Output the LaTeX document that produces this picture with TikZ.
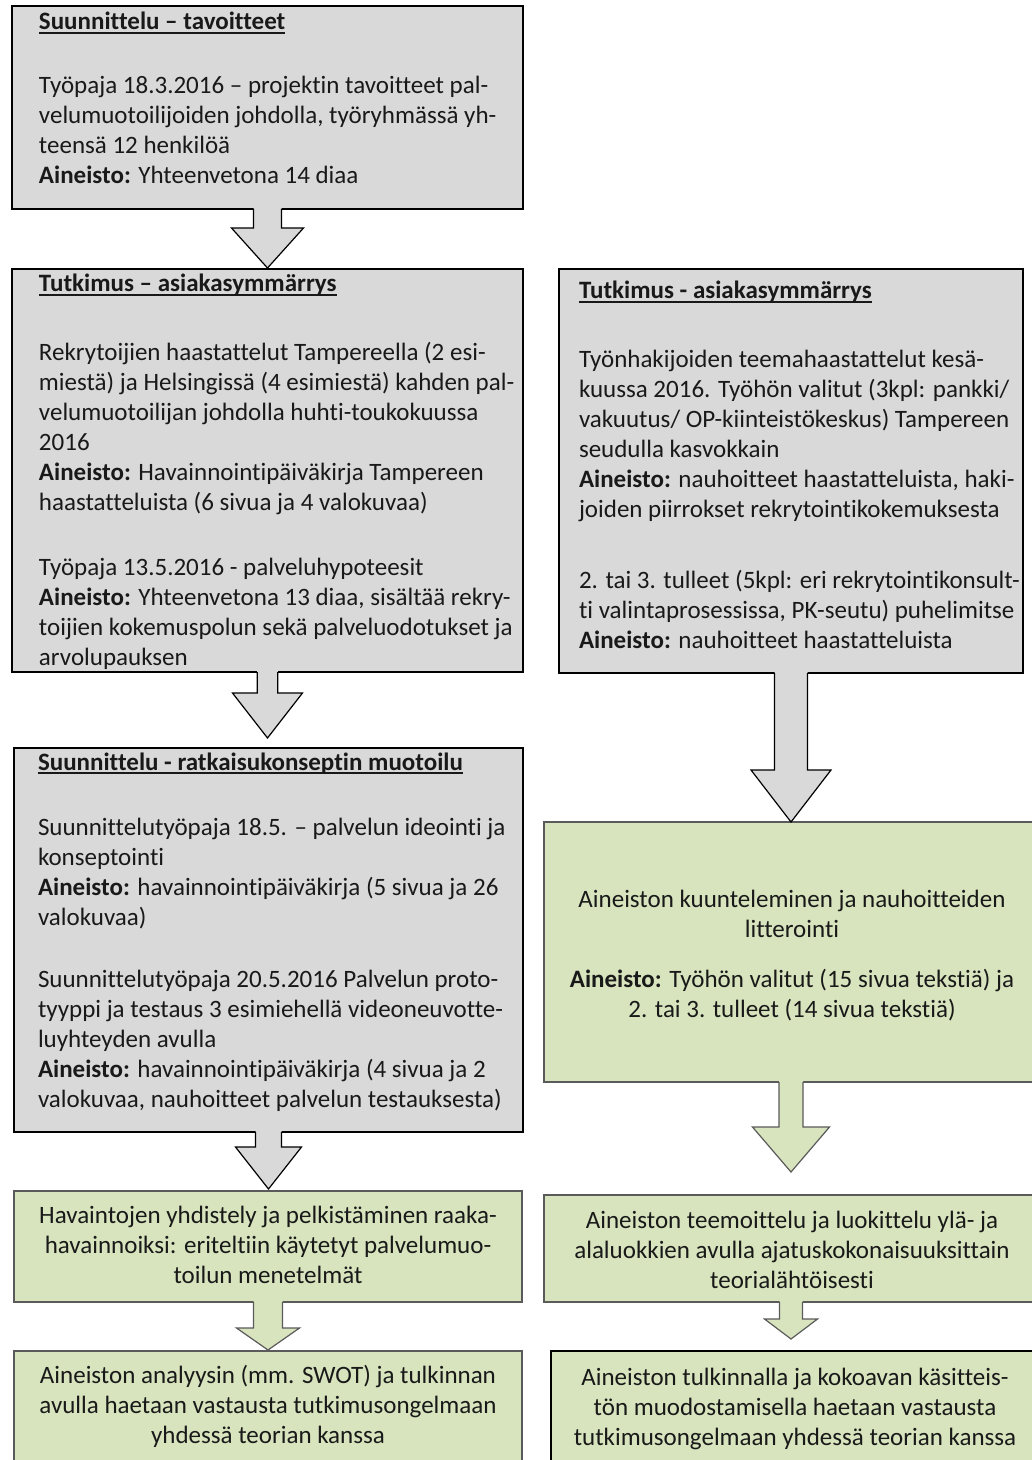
\documentclass[tikz,border=0pt]{standalone}
\usepackage{fontspec}
\setmainfont{Carlito}[Ligatures={NoCommon,NoContextual}]
\usetikzlibrary{calc}

\definecolor{boxgray}{HTML}{D9D9D9}
\definecolor{boxgreen}{HTML}{D7E4BD}
\definecolor{edgegray}{HTML}{5A5A5A}

\newcommand\textsize{\fontsize{12.5pt}{15pt}\selectfont}
% bold title with an underline at a fixed depth
\newcommand\boxtitle[1]{\setbox0\hbox{\textbf{#1}}\rlap{\vrule height -1.2pt depth 1.9pt width \wd0}\box0}
% left aligned and centred text blocks, aligned on their first baseline
\newcommand\leftblock[1]{\parbox[t]{300pt}{\raggedright\textsize #1}}
\newcommand\midblock[1]{\parbox[t]{300pt}{\centering\textsize #1}}

% block arrow from the bottom of a box down to a tip coordinate
% #1 style, #2 source node, #3 tip, #4 shaft half width, #5 head half width, #6 head length
\newcommand\blockarrow[6]{%
  \path[#1,draw=none] ($(#2.south)+(-#4,-2)$) -- ($(#3)+(-#4,-#6)$) -- ($(#3)+(-#5,-#6)$) -- (#3)
    -- ($(#3)+(#5,-#6)$) -- ($(#3)+(#4,-#6)$) -- ($(#2.south)+(#4,-2)$) -- cycle;
  \path[#1,fill=none] ($(#2.south)+(-#4,0)$) -- ($(#3)+(-#4,-#6)$) -- ($(#3)+(-#5,-#6)$) -- (#3)
    -- ($(#3)+(#5,-#6)$) -- ($(#3)+(#4,-#6)$) -- ($(#2.south)+(#4,0)$);
}

\begin{document}
\begin{tikzpicture}[x=0.5pt,y=-0.5pt,
  box/.style={rectangle,inner sep=0pt,outer sep=0pt,anchor=north west},
  graybox/.style={box,fill=boxgray,draw=black,line width=1pt},
  greenbox/.style={box,fill=boxgreen,draw=edgegray,line width=0.8pt},
  darkgreenbox/.style={box,fill=boxgreen,draw=black,line width=1.1pt},
  garrow/.style={fill=boxgray,draw=black,line width=0.6pt,line join=miter},
  varrow/.style={fill=boxgreen,draw=edgegray,line width=0.6pt,line join=miter},
  txt/.style={inner sep=0pt,outer sep=0pt,text=black!90},
  lt/.style={txt,anchor=base west},
  ct/.style={txt,anchor=base}]

\useasboundingbox (0,0) rectangle (1032,1460);
\clip (0,0) rectangle (1032,1460);

% ---------- boxes ----------
\node[graybox,minimum width=255.5pt,minimum height=101.5pt] (b1) at (12,6) {};
\node[graybox,minimum width=255.5pt,minimum height=201.5pt] (b2) at (12,269) {};
\node[graybox,minimum width=254.5pt,minimum height=192pt] (b3) at (14,748) {};
\node[greenbox,minimum width=254pt,minimum height=55.5pt] (b4) at (14,1191) {};
\node[greenbox,minimum width=254pt,minimum height=70pt] (b5) at (14,1351) {};

\node[graybox,minimum width=232pt,minimum height=202pt] (r1) at (559,269) {};
\node[greenbox,minimum width=247pt,minimum height=130pt] (r2) at (544,822) {};
\node[greenbox,minimum width=247pt,minimum height=53.5pt] (r3) at (544,1195) {};
\node[darkgreenbox,minimum width=247pt,minimum height=70pt] (r4) at (551,1351) {};

% ---------- block arrows ----------
\coordinate (a1tip) at ($(b1.south)+(0,59)$);
\coordinate (a2tip) at ($(b2.south)+(0,66)$);
\coordinate (a3tip) at ($(b3.south)+(0,57)$);
\coordinate (a4tip) at ($(b4.south)+(0,48)$);
\coordinate (c1tip) at ($(r1.south)+(0,149)$);
\coordinate (c2tip) at ($(r2.south)+(0,90)$);
\coordinate (c3tip) at ($(r3.south)+(0,37)$);

\blockarrow{garrow}{b1}{a1tip}{14}{36}{40}
\blockarrow{garrow}{b2}{a2tip}{10.3}{35}{45}
\blockarrow{garrow}{b3}{a3tip}{13}{33}{42}
\blockarrow{varrow}{b4}{a4tip}{14.5}{31.5}{22}
\blockarrow{garrow}{r1}{c1tip}{16.5}{40}{52}
\blockarrow{varrow}{r2}{c2tip}{12}{38.5}{45}
\blockarrow{varrow}{r3}{c3tip}{11.5}{26.5}{20}

% ---------- left column texts ----------
\node[lt] (b1h) at (39,30) {\textsize\boxtitle{Suunnittelu – tavoitteet}};
\node[lt] (b1p) at (39,94) {\leftblock{Työpaja 18.3.2016 – projektin tavoitteet pal-\\
velumuotoilijoiden johdolla, työryhmässä yh-\\
teensä 12 henkilöä\\
\textbf{Aineisto:} Yhteenvetona 14 diaa}};

\node[lt] (b2h) at (39,292) {\textsize\boxtitle{Tutkimus – asiakasymmärrys}};
\node[lt] (b2p) at (39,360) {\leftblock{Rekrytoijien haastattelut Tampereella (2 esi-\\
miestä) ja Helsingissä (4 esimiestä) kahden pal-\\
velumuotoilijan johdolla huhti-toukokuussa\\
2016\\
\textbf{Aineisto:} Havainnointipäiväkirja Tampereen\\
haastatteluista (6 sivua ja 4 valokuvaa)}};
\node[lt] (b2q) at (39,575) {\leftblock{Työpaja 13.5.2016 - palveluhypoteesit\\
\textbf{Aineisto:} Yhteenvetona 13 diaa, sisältää rekry-\\
toijien kokemuspolun sekä palveluodotukset ja\\
arvolupauksen}};

\node[lt] (b3h) at (38,770) {\textsize\boxtitle{Suunnittelu - ratkaisukonseptin muotoilu}};
\node[lt] (b3p) at (38,835) {\leftblock{Suunnittelutyöpaja 18.5. – palvelun ideointi ja\\
konseptointi\\
\textbf{Aineisto:} havainnointipäiväkirja (5 sivua ja 26\\
valokuvaa)}};
\node[lt] (b3q) at (38,987) {\leftblock{Suunnittelutyöpaja 20.5.2016 Palvelun proto-\\
tyyppi ja testaus 3 esimiehellä videoneuvotte-\\
luyhteyden avulla\\
\textbf{Aineisto:} havainnointipäiväkirja (4 sivua ja 2\\
valokuvaa, nauhoitteet palvelun testauksesta)}};

\node[ct] (b4t) at (268,1223) {\midblock{Havaintojen yhdistely ja pelkistäminen raaka-\\
havainnoiksi: eriteltiin käytetyt palvelumuo-\\
toilun menetelmät}};

\node[ct] (b5t) at (268,1383) {\midblock{Aineiston analyysin (mm. SWOT) ja tulkinnan\\
avulla haetaan vastausta tutkimusongelmaan\\
yhdessä teorian kanssa}};

% ---------- right column texts ----------
\node[lt] (r1h) at (579,299) {\textsize\boxtitle{Tutkimus - asiakasymmärrys}};
\node[lt] (r1p) at (579,367) {\leftblock{Työnhakijoiden teemahaastattelut kesä-\\
kuussa 2016. Työhön valitut (3kpl: pankki/\\
vakuutus/ OP-kiinteistökeskus) Tampereen\\
seudulla kasvokkain\\
\textbf{Aineisto:} nauhoitteet haastatteluista, haki-\\
joiden piirrokset rekrytointikokemuksesta}};
\node[lt] (r1q) at (579,588) {\leftblock{2. tai 3. tulleet (5kpl: eri rekrytointikonsult-\\
ti valintaprosessissa, PK-seutu) puhelimitse\\
\textbf{Aineisto:} nauhoitteet haastatteluista}};

\node[ct] (r2t) at (792,907) {\midblock{Aineiston kuunteleminen ja nauhoitteiden\\
litterointi}};
\node[ct] (r2u) at (792,987) {\midblock{\textbf{Aineisto:} Työhön valitut (15 sivua tekstiä) ja\\
2. tai 3. tulleet (14 sivua tekstiä)}};

\node[ct] (r3t) at (792,1228) {\midblock{Aineiston teemoittelu ja luokittelu ylä- ja\\
alaluokkien avulla ajatuskokonaisuuksittain\\
teorialähtöisesti}};

\node[ct] (r4t) at (795,1385) {\midblock{Aineiston tulkinnalla ja kokoavan käsitteis-\\
tön muodostamisella haetaan vastausta\\
tutkimusongelmaan yhdessä teorian kanssa}};

\end{tikzpicture}
\end{document}
